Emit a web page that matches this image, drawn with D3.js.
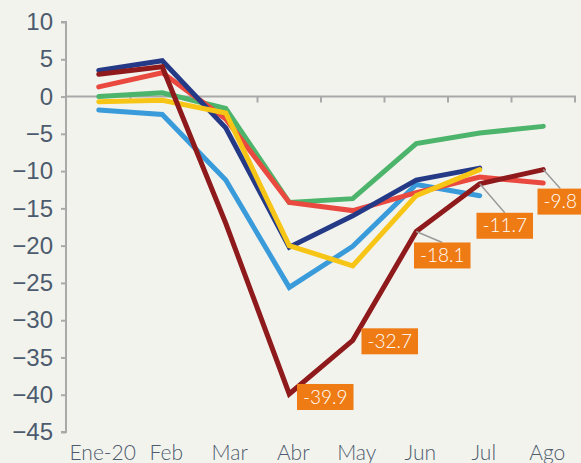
<!DOCTYPE html>
<html>
<head>
<meta charset="utf-8">
<script src="https://cdn.jsdelivr.net/npm/d3@7"></script>
<style>
  html, body { margin: 0; padding: 0; background: #f3f3ee; }
  svg { display: block; font-family: Lato, "Open Sans", sans-serif; }
</style>
</head>
<body>
<div id="chart"></div>
<script>
// months on the x axis
var months = ["Ene-20", "Feb", "Mar", "Abr", "May", "Jun", "Jul", "Ago"]
var yTicks = [10, 5, 0, -5, -10, -15, -20, -25, -30, -35, -40, -45]

// series values (null = no data)
var blueVals   = [-1.8, -2.4, -11.2, -25.6, -20.1, -11.8, -13.3, null]
var greenVals  = [0.0, 0.5, -1.6, -14.2, -13.7, -6.3, -4.9, -4.0]
var redVals    = [1.3, 3.2, -3.0, -14.2, -15.3, -12.9, -10.8, -11.6]
var navyVals   = [3.5, 4.8, -4.2, -20.2, -16.0, -11.2, -9.6, null]
var yellowVals = [-0.7, -0.5, -2.2, -20.0, -22.7, -13.3, -9.8, null]
var darkRedVals = [3.0, 4.0, -17.0, -39.9, -32.7, -18.1, -11.7, -9.8]

// orange callouts on the dark red series
var calloutMonths = ["Abr", "May", "Jun", "Jul", "Ago"]
var calloutValues = [-39.9, -32.7, -18.1, -11.7, -9.8]

var seriesList = [
  { vals: blueVals, color: "#3a9bdb" },
  { vals: greenVals, color: "#4db46b" },
  { vals: redVals, color: "#e9493f" },
  { vals: navyVals, color: "#253a86" },
  { vals: yellowVals, color: "#f7c516" },
  { vals: darkRedVals, color: "#8e1a1c" }
]

// box offsets from the point (layout only)
var calloutOffsets = [
  { dx: 36, dy: 3, leader: false },
  { dx: 37, dy: 1, leader: false },
  { dx: 26, dy: 24, leader: true },
  { dx: 25, dy: 42, leader: true },
  { dx: 17, dy: 32, leader: true }
]

var width = 581, height = 463

var svg = d3.select("#chart").append("svg")
  .attr("width", width)
  .attr("height", height)

svg.append("rect").attr("width", width).attr("height", height).attr("fill", "#f3f3ee")

var x = d3.scaleBand().domain(months).range([67, 575])
var xc = function(m) { return x(m) + x.bandwidth() / 2 }
var y = d3.scaleLinear().domain([-45, 10]).range([432, 22])

var axisColor = "#a9a9a9"
var textColor = "#4c5b6d"

// y axis
var yAxis = svg.append("g")
  .attr("transform", "translate(66,0)")
  .call(d3.axisLeft(y).tickValues(yTicks).tickSize(5).tickPadding(8))
yAxis.select(".domain").attr("stroke", axisColor).attr("stroke-width", 2)
  .attr("d", "M-5," + y(10) + "H0V" + y(-45) + "H-5")
yAxis.selectAll(".tick line").attr("stroke", axisColor).attr("stroke-width", 2)
yAxis.selectAll(".tick text")
  .attr("fill", textColor)
  .style("font-size", "24px")
  .style("font-weight", 300)
  .attr("font-family", null)

// zero line with category ticks
var xAxis = svg.append("g")
  .attr("transform", "translate(0," + y(0) + ")")
  .call(d3.axisBottom(x).tickSize(0).tickFormat(""))
xAxis.select(".domain").attr("stroke", axisColor).attr("stroke-width", 2)
  .attr("d", "M66,0H575V6")
svg.append("g").selectAll("line")
  .data(months.slice(1))
  .enter().append("line")
    .attr("x1", function(d) { return x(d) })
    .attr("x2", function(d) { return x(d) })
    .attr("y1", y(0))
    .attr("y2", y(0) + 6)
    .attr("stroke", axisColor)
    .attr("stroke-width", 2)

// month labels
svg.append("g").selectAll("text")
  .data(months)
  .enter().append("text")
    .attr("x", function(d) { return xc(d) + 4 })
    .attr("y", 460)
    .attr("text-anchor", "middle")
    .attr("fill", textColor)
    .style("font-size", "21px")
    .style("font-weight", 300)
    .text(function(d) { return d })

// lines
var line = d3.line()
  .defined(function(d) { return d != null })
  .x(function(d, i) { return xc(months[i]) })
  .y(function(d) { return y(d) })

svg.append("g").selectAll("path")
  .data(seriesList)
  .enter().append("path")
    .attr("d", function(s) { return line(s.vals) })
    .attr("fill", "none")
    .attr("stroke", function(s) { return s.color })
    .attr("stroke-width", 5)
    .attr("stroke-linejoin", "miter")
    .attr("stroke-linecap", "round")

// callouts
var cg = svg.append("g")
calloutValues.forEach(function(v, i) {
  var px = xc(calloutMonths[i]), py = y(v)
  var off = calloutOffsets[i]
  var cx = px + off.dx, cy = py + off.dy
  var t = cg.append("text")
    .attr("x", cx)
    .attr("y", cy)
    .attr("text-anchor", "middle")
    .attr("dy", "0.35em")
    .attr("fill", "#ffffff")
    .style("font-size", "19px")
    .style("font-weight", 300)
    .text(d3.format(".1f")(v).replace("−", "-"))
  var w = t.node().getComputedTextLength() + 12
  var h = 26
  if (off.leader) {
    cg.insert("line", "text")
      .attr("x1", px).attr("y1", py)
      .attr("x2", cx).attr("y2", cy - h / 2)
      .attr("stroke", "#9a9a9a")
      .attr("stroke-width", 1.5)
  }
  cg.insert("rect", "text")
    .attr("x", cx - w / 2)
    .attr("y", cy - h / 2)
    .attr("width", w)
    .attr("height", h)
    .attr("fill", "#ef7b14")
})
</script>
</body>
</html>
